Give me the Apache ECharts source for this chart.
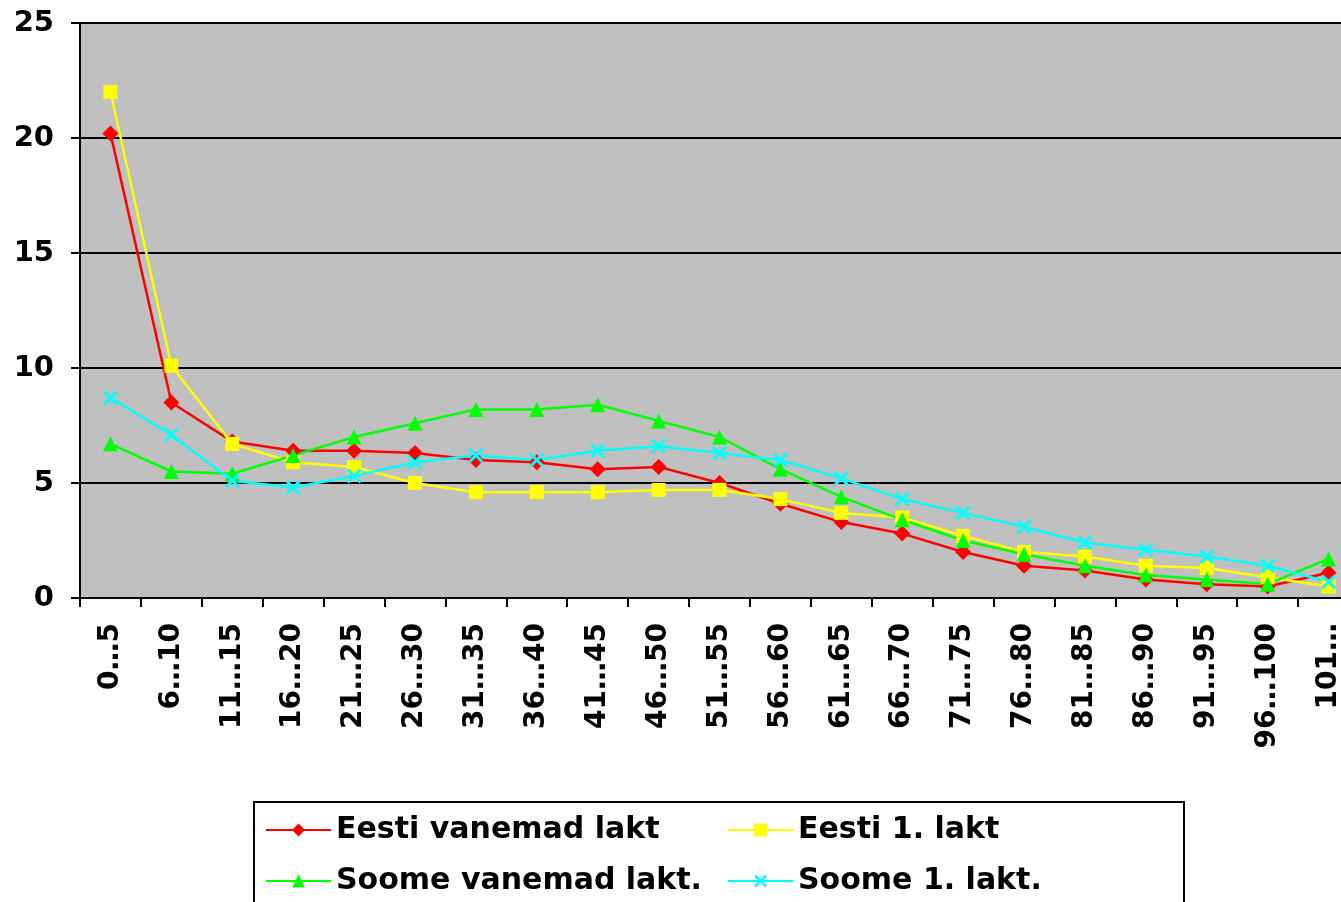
<!DOCTYPE html>
<html>
<head>
<meta charset="utf-8">
<script src="https://cdn.jsdelivr.net/npm/echarts@6/dist/echarts.min.js"></script>
<style>
html,body{margin:0;padding:0;background:#fff;overflow:hidden;}
#chart{width:1360px;height:902px;}
</style>
</head>
<body>
<div id="chart"></div>
<script>
const categories = ["0…5","6…10","11…15","16…20","21…25","26…30","31…35","36…40","41…45","46…50","51…55","56…60","61…65","66…70","71…75","76…80","81…85","86…90","91…95","96…100","101…"];
const eestiVanemad = [20.2, 8.5, 6.8, 6.4, 6.4, 6.3, 6.0, 5.9, 5.6, 5.7, 5.0, 4.1, 3.3, 2.8, 2.0, 1.4, 1.2, 0.8, 0.6, 0.5, 1.1];
const eesti1 = [22.0, 10.1, 6.7, 5.9, 5.7, 5.0, 4.6, 4.6, 4.6, 4.7, 4.7, 4.3, 3.7, 3.5, 2.7, 2.0, 1.8, 1.4, 1.3, 0.9, 0.5];
const soomeVanemad = [6.7, 5.5, 5.4, 6.2, 7.0, 7.6, 8.2, 8.2, 8.4, 7.7, 7.0, 5.6, 4.4, 3.4, 2.5, 1.9, 1.4, 1.0, 0.8, 0.6, 1.7];
const soome1 = [8.7, 7.1, 5.1, 4.8, 5.3, 5.9, 6.2, 6.0, 6.4, 6.6, 6.3, 6.0, 5.2, 4.3, 3.7, 3.1, 2.4, 2.1, 1.8, 1.4, 0.7];
const seriesNames = ["Eesti vanemad lakt", "Eesti 1. lakt", "Soome vanemad lakt.", "Soome 1. lakt."];
const yTicks = [0, 5, 10, 15, 20, 25];

const FONT = 'DejaVu Sans';
const xPath = 'path://M0,1.4L1.4,0L5,3.6L8.6,0L10,1.4L6.4,5L10,8.6L8.6,10L5,6.4L1.4,10L0,8.6L3.6,5Z';

function mk(name, data, color, symbol, size) {
  return {
    name: name, type: 'line', data: data,
    symbol: symbol, symbolSize: size,
    lineStyle: {color: color, width: 2.5},
    itemStyle: {color: color},
    emphasis: {disabled: true},
    animation: false
  };
}

function legendCol(left, names) {
  return {
    data: names,
    left: left, top: 815,
    orient: 'vertical',
    padding: 0,
    itemGap: 21,
    itemWidth: 65, itemHeight: 16,
    textStyle: {color: '#000', fontFamily: FONT, fontWeight: 'bold', fontSize: 30}
  };
}

const chart = echarts.init(document.getElementById('chart'), null, {renderer: 'canvas'});
chart.setOption({
  animation: false,
  grid: {left: 80, top: 23, right: 1, bottom: 304, show: true, backgroundColor: '#c0c0c0', borderWidth: 0},
  graphic: [{
    type: 'rect', left: 253, top: 801, z: 0,
    shape: {width: 930, height: 130},
    style: {fill: '#fff', stroke: '#000', lineWidth: 2}
  }],
  xAxis: {
    type: 'category', data: categories, boundaryGap: true,
    axisLine: {lineStyle: {color: '#000', width: 2}},
    axisTick: {show: true, interval: 0, length: 9, lineStyle: {color: '#000', width: 2}},
    axisLabel: {interval: 0, rotate: 90, margin: 25, color: '#000', fontFamily: FONT, fontWeight: 'bold', fontSize: 28}
  },
  yAxis: {
    type: 'value', min: yTicks[0], max: yTicks[yTicks.length-1], interval: 5,
    axisLine: {show: true, lineStyle: {color: '#000', width: 2}},
    axisTick: {show: true, length: 9, lineStyle: {color: '#000', width: 2}},
    axisLabel: {margin: 26, color: '#000', fontFamily: FONT, fontWeight: 'bold', fontSize: 29},
    splitLine: {show: true, lineStyle: {color: '#000', width: 2}}
  },
  legend: [
    legendCol(265, [seriesNames[0], seriesNames[2]]),
    legendCol(727, [seriesNames[1], seriesNames[3]])
  ],
  series: [
    mk(seriesNames[0], eestiVanemad, '#ff0000', 'diamond', 16),
    mk(seriesNames[1], eesti1, '#ffff00', 'rect', 14),
    mk(seriesNames[2], soomeVanemad, '#00ff00', 'triangle', 15),
    mk(seriesNames[3], soome1, '#00ffff', xPath, 15)
  ]
});
</script>
</body>
</html>
